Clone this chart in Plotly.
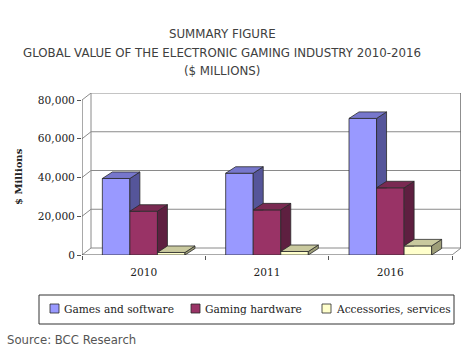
import plotly.graph_objects as go
import numpy as np

# ---------------- data ----------------
categories = ["2010", "2011", "2016"]
series_names = ["Games and software", "Gaming hardware", "Accessories, services"]
games_software = [39500, 42200, 70500]
gaming_hardware = [22600, 23300, 34700]
accessories_services = [1300, 1800, 4700]
y_tick_values = [0, 20000, 40000, 60000, 80000]
y_tick_labels = ["0", "20,000", "40,000", "60,000", "80,000"]

title_lines = ["SUMMARY FIGURE",
               "GLOBAL VALUE OF THE ELECTRONIC GAMING INDUSTRY 2010-2016",
               "($ MILLIONS)"]
y_title = "$ Millions"
source_text = "Source: BCC Research"

# ---------------- styling ----------------
front_colors = ["#9999FF", "#993366", "#FFFFCC"]
side_colors = ["#55559A", "#5E1F40", "#9E9E78"]
top_colors = ["#7777CC", "#7A2A52", "#C9C99E"]
edge_color = "#2a2a2a"
wall_color = "#8a8a8a"

W_FIG, H_FIG = 476, 353
M_L, M_R, M_T, M_B = 82, 15, 93, 98
PW = W_FIG - M_L - M_R   # 379
PH = H_FIG - M_T - M_B   # 162

WALL_DX_PX, WALL_DY_PX = 9, 7
BAR_DX_PX, BAR_DY_PX = 10, 6.5
Y_MAX = 80000
n_cat = len(categories)
cat_px = (PW - WALL_DX_PX) / n_cat
y_px_per_unit = (PH - WALL_DY_PX) / Y_MAX

DX = WALL_DX_PX / cat_px
DY = WALL_DY_PX / y_px_per_unit
BDX = BAR_DX_PX / cat_px
BDY = BAR_DY_PX / y_px_per_unit

BARGAP = 0.33
values = [games_software, gaming_hardware, accessories_services]
n_ser = len(values)
bar_w = (1 - BARGAP) / n_ser

x_lo, x_hi = -0.5, n_cat - 0.5

fig = go.Figure()

# front faces as real bars
for i in range(n_ser):
    fig.add_trace(go.Bar(
        x=list(range(n_cat)), y=values[i], name=series_names[i],
        marker=dict(color=front_colors[i], line=dict(color=edge_color, width=0.8)),
        showlegend=False, hoverinfo="skip"))

# 3D side and top faces computed from the data
for i in range(n_ser):
    sx, sy, tx, ty = [], [], [], []
    for c in range(n_cat):
        v = values[i][c]
        x0 = c - (1 - BARGAP) / 2 + i * bar_w
        x1 = x0 + bar_w
        vn = values[i + 1][c] if i + 1 < n_ser else 0.0
        if vn <= 0:
            pts = [(x1, 0), (x1 + BDX, BDY), (x1 + BDX, v + BDY), (x1, v)]
        elif vn >= BDY:
            pts = [(x1, vn), (x1 + BDX, vn), (x1 + BDX, v + BDY), (x1, v)]
        else:
            pts = [(x1, vn), (x1 + BDX * vn / BDY, vn), (x1 + BDX, BDY),
                   (x1 + BDX, v + BDY), (x1, v)]
        pts.append(pts[0])
        sx += [p[0] for p in pts] + [None]
        sy += [p[1] for p in pts] + [None]
        tp = [(x0, v), (x0 + BDX, v + BDY), (x1 + BDX, v + BDY), (x1, v), (x0, v)]
        tx += [p[0] for p in tp] + [None]
        ty += [p[1] for p in tp] + [None]
    fig.add_trace(go.Scatter(x=sx, y=sy, mode="lines", fill="toself",
                             fillcolor=side_colors[i],
                             line=dict(color=edge_color, width=0.8),
                             showlegend=False, hoverinfo="skip"))
    fig.add_trace(go.Scatter(x=tx, y=ty, mode="lines", fill="toself",
                             fillcolor=top_colors[i],
                             line=dict(color=edge_color, width=0.8),
                             showlegend=False, hoverinfo="skip"))

shapes = []
def seg(xa, ya, xb, yb, color=wall_color, width=1):
    shapes.append(dict(type="line", xref="x", yref="y", x0=xa, y0=ya, x1=xb, y1=yb,
                       line=dict(color=color, width=width), layer="below"))

for v in y_tick_values:
    seg(x_lo, v, x_lo + DX, v + DY)
    seg(x_lo + DX, v + DY, x_hi + DX, v + DY)
seg(x_lo + DX, DY, x_lo + DX, Y_MAX + DY)
seg(x_hi + DX, DY, x_hi + DX, Y_MAX + DY, color="#6a6a6a", width=1.5)
seg(x_lo, 0, x_hi, 0, color="#555555")
seg(x_hi, 0, x_hi + DX, DY)
seg(x_lo, 0, x_lo, Y_MAX, color="#555555")

def px_to_paper_x(px):
    return (px - M_L) / PW
def px_to_paper_y(py):
    return (H_FIG - M_B - py) / PH

annotations = []
title_y_px = [34.5, 52.5, 70.5]
for line, ypx in zip(title_lines, title_y_px):
    annotations.append(dict(text=line, xref="paper", yref="paper",
                            x=px_to_paper_x(222), y=px_to_paper_y(ypx),
                            xanchor="center", yanchor="middle", showarrow=False,
                            font=dict(family="DejaVu Sans", size=11.8, color="#404040")))
annotations.append(dict(text="<b>" + y_title + "</b>", xref="paper", yref="paper",
                        x=px_to_paper_x(18), y=px_to_paper_y(177), textangle=-90,
                        xanchor="center", yanchor="middle", showarrow=False,
                        font=dict(family="DejaVu Serif", size=10, color="#222222")))
annotations.append(dict(text=source_text, xref="paper", yref="paper",
                        x=px_to_paper_x(5), y=px_to_paper_y(340),
                        xanchor="left", yanchor="middle", showarrow=False,
                        font=dict(family="DejaVu Sans", size=11.7, color="#555555")))

shapes.append(dict(type="rect", xref="paper", yref="paper",
                   x0=px_to_paper_x(39), x1=px_to_paper_x(454),
                   y0=px_to_paper_y(324), y1=px_to_paper_y(295),
                   line=dict(color="#333333", width=1), fillcolor="white"))
legend_x_px = [50, 191, 322]
for i in range(n_ser):
    lx = legend_x_px[i]
    shapes.append(dict(type="rect", xref="paper", yref="paper",
                       x0=px_to_paper_x(lx), x1=px_to_paper_x(lx + 9),
                       y0=px_to_paper_y(313), y1=px_to_paper_y(304),
                       line=dict(color=edge_color, width=0.8), fillcolor=front_colors[i]))
    annotations.append(dict(text=series_names[i], xref="paper", yref="paper",
                            x=px_to_paper_x(lx + 12), y=px_to_paper_y(309),
                            xanchor="left", yanchor="middle", showarrow=False,
                            font=dict(family="DejaVu Serif", size=10.6, color="#222222")))

fig.update_layout(
    width=W_FIG, height=H_FIG,
    margin=dict(l=M_L, r=M_R, t=M_T, b=M_B, pad=0),
    paper_bgcolor="white", plot_bgcolor="white",
    barmode="group", bargap=BARGAP, bargroupgap=0,
    shapes=shapes, annotations=annotations, showlegend=False,
    xaxis=dict(range=[x_lo, x_hi + DX], tickvals=list(range(n_cat)), ticktext=categories,
               showgrid=False, zeroline=False, showline=False, ticks="",
               ticklabelstandoff=9,
               minor=dict(tickmode="array", tickvals=[x_lo + k for k in range(n_cat + 1)],
                          ticks="outside", ticklen=4, tickcolor="#555555", showgrid=False),
               tickfont=dict(family="DejaVu Serif", size=10.6, color="#222222"),
               fixedrange=True),
    yaxis=dict(range=[0, Y_MAX + DY], tickvals=y_tick_values, ticktext=y_tick_labels,
               showgrid=False, zeroline=False, showline=False,
               ticks="outside", ticklen=4, tickcolor="#555555",
               tickfont=dict(family="DejaVu Serif", size=10.6, color="#222222"),
               fixedrange=True),
)

fig.write_html("out.html", config={"displayModeBar": False})
